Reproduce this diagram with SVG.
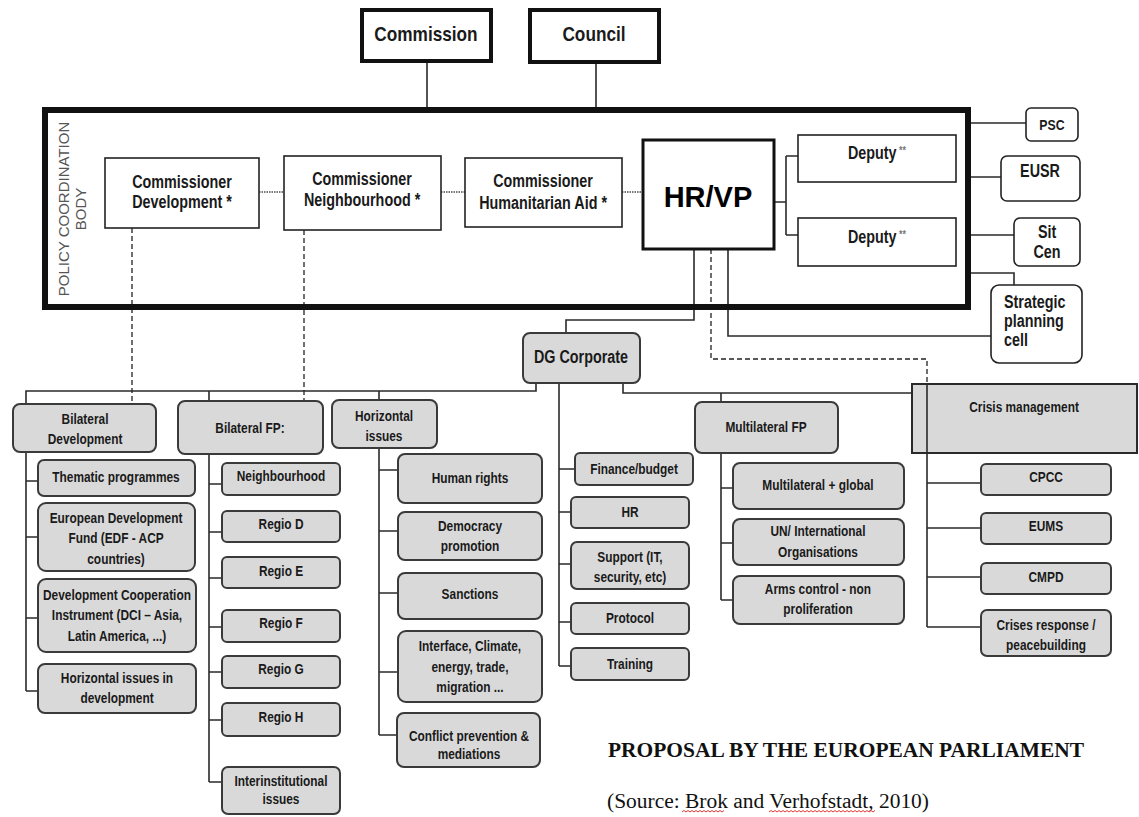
<svg xmlns="http://www.w3.org/2000/svg" width="1139" height="817" viewBox="0 0 1139 817">
<style>
.t{font-family:"Liberation Sans",Arial,sans-serif;font-weight:bold;fill:#1a1a1a;text-anchor:middle;transform-box:fill-box;transform-origin:center;transform:scaleX(0.82)}
.l{text-anchor:start;transform-origin:0% 50%}
.b{font-size:17.5px}
.s{font-size:14.5px}
.wb{fill:#fff;stroke:#222;stroke-width:1.6}
.gb{fill:#d9d9d9;stroke:#3a3a3a;stroke-width:2}
.ln{fill:none;stroke:#2a2a2a;stroke-width:1.6}
.da{fill:none;stroke:#222;stroke-width:1.3;stroke-dasharray:5 3}
.do{fill:none;stroke:#777;stroke-width:2;stroke-dasharray:1.5 1}
.serif{font-family:"Liberation Serif","Times New Roman",serif;fill:#111}
</style>
<rect width="1139" height="817" fill="#fff"/>

<g id="connectors">
  <path class="ln" d="M427 63V110M596 63V110"/>
  <path class="ln" d="M968 123H1026M968 177H1001M968 235H1014M968 273H1014V285"/>
  <path class="ln" d="M774 202H786M786 156V235M786 156H798M786 235H798"/>
  <path class="do" d="M259 192H284M441 192H465M622 192H643"/>
  <path class="da" d="M132 228V404M304 230V400"/>
  <path class="ln" d="M694 249V320H566V333"/>
  <path class="ln" d="M728 249V336H991"/>
  <path class="da" d="M711 249V359H927V383"/>
  <path class="ln" d="M536 383V391H26V404M209 391V401M379 391V400"/>
  <path class="ln" d="M559 383V666"/>
  <path class="ln" d="M623 383V393H912M721 393V402"/>
  <path class="ln" d="M26 452V691M26 481H38M26 537H38M26 618H38M26 691H38"/>
  <path class="ln" d="M209 454V782M209 484H222M209 532H222M209 578H222M209 627H222M209 672H222M209 720H222M209 782H222"/>
  <path class="ln" d="M379 448V735M379 470H398M379 531H398M379 593H398M379 672H398M379 735H397"/>
  <path class="ln" d="M559 469H575M559 512H571M559 564H571M559 622H571M559 666H571"/>
  <path class="ln" d="M721 453V600M721 488H733M721 543H733M721 600H733"/>
</g>

<g id="commission"><rect x="362" y="10" width="129" height="51" fill="#fff" stroke="#111" stroke-width="4"/><text class="t" x="426" y="41" style="font-size:21px">Commission</text></g>
<g id="council"><rect x="530" y="10" width="129" height="52" fill="#fff" stroke="#111" stroke-width="4"/><text class="t" x="594" y="41" style="font-size:21px">Council</text></g>

<g id="policy-body">
  <rect x="45" y="110" width="923" height="197" fill="none" stroke="#111" stroke-width="6"/>
  <text transform="translate(69 209) rotate(-90)" style="font-family:'Liberation Sans',Arial,sans-serif;font-size:15px;fill:#555;text-anchor:middle"><tspan x="0" y="0">POLICY COORDINATION</tspan><tspan x="0" y="17">BODY</tspan></text>
</g>

<g id="comm-dev"><rect class="wb" x="105" y="158" width="154" height="70"/><text class="t b" x="182" y="188">Commissioner</text><text class="t b" x="182" y="208">Development *</text></g>
<g id="comm-neigh"><rect class="wb" x="284" y="156" width="157" height="74"/><text class="t b" x="362" y="185">Commissioner</text><text class="t b" x="362" y="206">Neighbourhood *</text></g>
<g id="comm-hum"><rect class="wb" x="465" y="158" width="157" height="69"/><text class="t b" x="543" y="187">Commissioner</text><text class="t b" x="543" y="209">Humanitarian Aid *</text></g>
<g id="hrvp"><rect x="643" y="140" width="131" height="109" fill="#fff" stroke="#111" stroke-width="3"/><text x="708" y="207" style="font-family:'Liberation Sans',Arial,sans-serif;font-weight:bold;text-anchor:middle;font-size:29px;fill:#000">HR/VP</text></g>
<g id="deputy1"><rect class="wb" x="798" y="135" width="158" height="47"/><text class="t b" x="877" y="159">Deputy<tspan style="font-size:11px;fill:#777" dy="-5"> **</tspan></text></g>
<g id="deputy2"><rect class="wb" x="798" y="218" width="158" height="48"/><text class="t b" x="877" y="243">Deputy<tspan style="font-size:11px;fill:#777" dy="-5"> **</tspan></text></g>

<g id="psc"><rect class="wb" x="1026" y="108" width="52" height="33" rx="5"/><text class="t" x="1052" y="130" style="font-size:15px">PSC</text></g>
<g id="eusr"><rect class="wb" x="1001" y="156" width="79" height="45" rx="6"/><text class="t b" x="1040" y="177">EUSR</text></g>
<g id="sitcen"><rect class="wb" x="1014" y="218" width="66" height="48" rx="6"/><text class="t b" x="1047" y="238">Sit</text><text class="t b" x="1047" y="258">Cen</text></g>
<g id="strategic"><rect class="wb" x="991" y="285" width="91" height="78" rx="8"/><text class="t b l" x="1004" y="308">Strategic</text><text class="t b l" x="1004" y="327">planning</text><text class="t b l" x="1004" y="346">cell</text></g>

<g id="dg-corporate"><rect class="gb" x="523" y="333" width="117" height="50" rx="7"/><text class="t b" x="581" y="363">DG Corporate</text></g>

<g id="bilateral-dev"><rect class="gb" x="13" y="404" width="143" height="48" rx="7"/><text class="t s" x="85" y="424">Bilateral</text><text class="t s" x="85" y="444">Development</text></g>
<g id="bilateral-fp"><rect class="gb" x="178" y="401" width="145" height="53" rx="7"/><text class="t s" x="250" y="433">Bilateral FP:</text></g>
<g id="horizontal"><rect class="gb" x="332" y="400" width="105" height="48" rx="7"/><text class="t s" x="384" y="421">Horizontal</text><text class="t s" x="384" y="441">issues</text></g>
<g id="multilateral-fp"><rect class="gb" x="695" y="402" width="143" height="51" rx="7"/><text class="t s" x="766" y="432">Multilateral FP</text></g>
<g id="crisis-mgmt"><rect x="912" y="384" width="225" height="69" fill="#d9d9d9" stroke="#2a2a2a" stroke-width="2"/><text class="t s" x="1024" y="412">Crisis management</text></g>
<path class="ln" d="M927 383V627M927 483H981M927 528H981M927 577H981M927 627H981"/>

<g id="thematic"><rect class="gb" x="38" y="460" width="157" height="36" rx="6"/><text class="t s" x="116" y="482">Thematic programmes</text></g>
<g id="edf"><rect class="gb" x="38" y="503" width="157" height="68" rx="8"/><text class="t s" x="116" y="523">European Development</text><text class="t s" x="116" y="543">Fund (EDF - ACP</text><text class="t s" x="116" y="564">countries)</text></g>
<g id="dci"><rect class="gb" x="38" y="579" width="158" height="73" rx="8"/><text class="t s" x="117" y="600">Development Cooperation</text><text class="t s" x="117" y="620">Instrument (DCI – Asia,</text><text class="t s" x="117" y="641">Latin America, ...)</text></g>
<g id="horiz-dev"><rect class="gb" x="38" y="664" width="158" height="49" rx="7"/><text class="t s" x="117" y="683">Horizontal issues in</text><text class="t s" x="117" y="703">development</text></g>

<g id="neighbourhood"><rect class="gb" x="222" y="463" width="118" height="32" rx="5"/><text class="t s" x="281" y="481">Neighbourhood</text></g>
<g id="regio-d"><rect class="gb" x="222" y="511" width="118" height="31" rx="5"/><text class="t s" x="281" y="529">Regio D</text></g>
<g id="regio-e"><rect class="gb" x="222" y="557" width="118" height="31" rx="5"/><text class="t s" x="281" y="576">Regio E</text></g>
<g id="regio-f"><rect class="gb" x="222" y="610" width="118" height="32" rx="5"/><text class="t s" x="281" y="628">Regio F</text></g>
<g id="regio-g"><rect class="gb" x="222" y="656" width="118" height="32" rx="5"/><text class="t s" x="281" y="674">Regio G</text></g>
<g id="regio-h"><rect class="gb" x="222" y="703" width="118" height="33" rx="5"/><text class="t s" x="281" y="722">Regio H</text></g>
<g id="interinst"><rect class="gb" x="222" y="767" width="118" height="47" rx="6"/><text class="t s" x="281" y="786">Interinstitutional</text><text class="t s" x="281" y="804">issues</text></g>

<g id="human-rights"><rect class="gb" x="398" y="454" width="144" height="49" rx="7"/><text class="t s" x="470" y="483">Human rights</text></g>
<g id="democracy"><rect class="gb" x="398" y="512" width="144" height="48" rx="7"/><text class="t s" x="470" y="531">Democracy</text><text class="t s" x="470" y="551">promotion</text></g>
<g id="sanctions"><rect class="gb" x="398" y="573" width="144" height="46" rx="7"/><text class="t s" x="470" y="599">Sanctions</text></g>
<g id="interface"><rect class="gb" x="398" y="631" width="144" height="71" rx="8"/><text class="t s" x="470" y="651">Interface, Climate,</text><text class="t s" x="470" y="672">energy, trade,</text><text class="t s" x="470" y="692">migration ...</text></g>
<g id="conflict"><rect class="gb" x="397" y="713" width="143" height="54" rx="7"/><text class="t s" x="469" y="741">Conflict prevention &amp;</text><text class="t s" x="469" y="759">mediations</text></g>

<g id="finance"><rect class="gb" x="575" y="453" width="118" height="32" rx="5"/><text class="t s" x="634" y="474">Finance/budget</text></g>
<g id="hr"><rect class="gb" x="571" y="497" width="118" height="31" rx="5"/><text class="t s" x="630" y="517">HR</text></g>
<g id="support"><rect class="gb" x="571" y="542" width="118" height="47" rx="6"/><text class="t s" x="630" y="562">Support (IT,</text><text class="t s" x="630" y="582">security, etc)</text></g>
<g id="protocol"><rect class="gb" x="571" y="603" width="118" height="31" rx="5"/><text class="t s" x="630" y="623">Protocol</text></g>
<g id="training"><rect class="gb" x="571" y="648" width="118" height="32" rx="5"/><text class="t s" x="630" y="669">Training</text></g>

<g id="multi-global"><rect class="gb" x="733" y="463" width="171" height="46" rx="7"/><text class="t s" x="818" y="490">Multilateral + global</text></g>
<g id="un"><rect class="gb" x="733" y="519" width="171" height="46" rx="7"/><text class="t s" x="818" y="536">UN/ International</text><text class="t s" x="818" y="557">Organisations</text></g>
<g id="arms"><rect class="gb" x="733" y="576" width="171" height="48" rx="7"/><text class="t s" x="818" y="594">Arms control - non</text><text class="t s" x="818" y="614">proliferation</text></g>

<g id="cpcc"><rect class="gb" x="981" y="464" width="130" height="31" rx="5"/><text class="t s" x="1046" y="482">CPCC</text></g>
<g id="eums"><rect class="gb" x="981" y="513" width="130" height="31" rx="5"/><text class="t s" x="1046" y="531">EUMS</text></g>
<g id="cmpd"><rect class="gb" x="981" y="563" width="130" height="31" rx="5"/><text class="t s" x="1046" y="582">CMPD</text></g>
<g id="crises-response"><rect class="gb" x="981" y="610" width="130" height="46" rx="6"/><text class="t s" x="1046" y="630">Crises response /</text><text class="t s" x="1046" y="650">peacebuilding</text></g>

<g id="caption">
  <text class="serif" x="608" y="757" style="font-size:21px;font-weight:bold" textLength="476" lengthAdjust="spacingAndGlyphs">PROPOSAL BY THE EUROPEAN PARLIAMENT</text>
  <text class="serif" x="607" y="808" style="font-size:20px" textLength="322" lengthAdjust="spacingAndGlyphs">(Source: Brok and Verhofstadt, 2010)</text>
  <path d="M682 812l2 -1.5l2 1.5l2 -1.5l2 1.5l2 -1.5l2 1.5l2 -1.5l2 1.5l2 -1.5l2 1.5l2 -1.5l2 1.5l2 -1.5l2 1.5l2 -1.5l2 1.5l2 -1.5l2 1.5l2 -1.5l2 1.5l2 -1.5" fill="none" stroke="#e02020" stroke-width="0.9"/>
  <path d="M769 812l2 -1.5l2 1.5l2 -1.5l2 1.5l2 -1.5l2 1.5l2 -1.5l2 1.5l2 -1.5l2 1.5l2 -1.5l2 1.5l2 -1.5l2 1.5l2 -1.5l2 1.5l2 -1.5l2 1.5l2 -1.5l2 1.5l2 -1.5l2 1.5l2 -1.5l2 1.5l2 -1.5l2 1.5l2 -1.5l2 1.5l2 -1.5l2 1.5l2 -1.5l2 1.5l2 -1.5l2 1.5l2 -1.5l2 1.5l2 -1.5l2 1.5l2 -1.5l2 1.5l2 -1.5l2 1.5l2 -1.5l2 1.5l2 -1.5l2 1.5l2 -1.5l2 1.5l2 -1.5l2 1.5l2 -1.5l2 1.5l2 -1.5" fill="none" stroke="#e02020" stroke-width="0.9"/>
</g>
</svg>
